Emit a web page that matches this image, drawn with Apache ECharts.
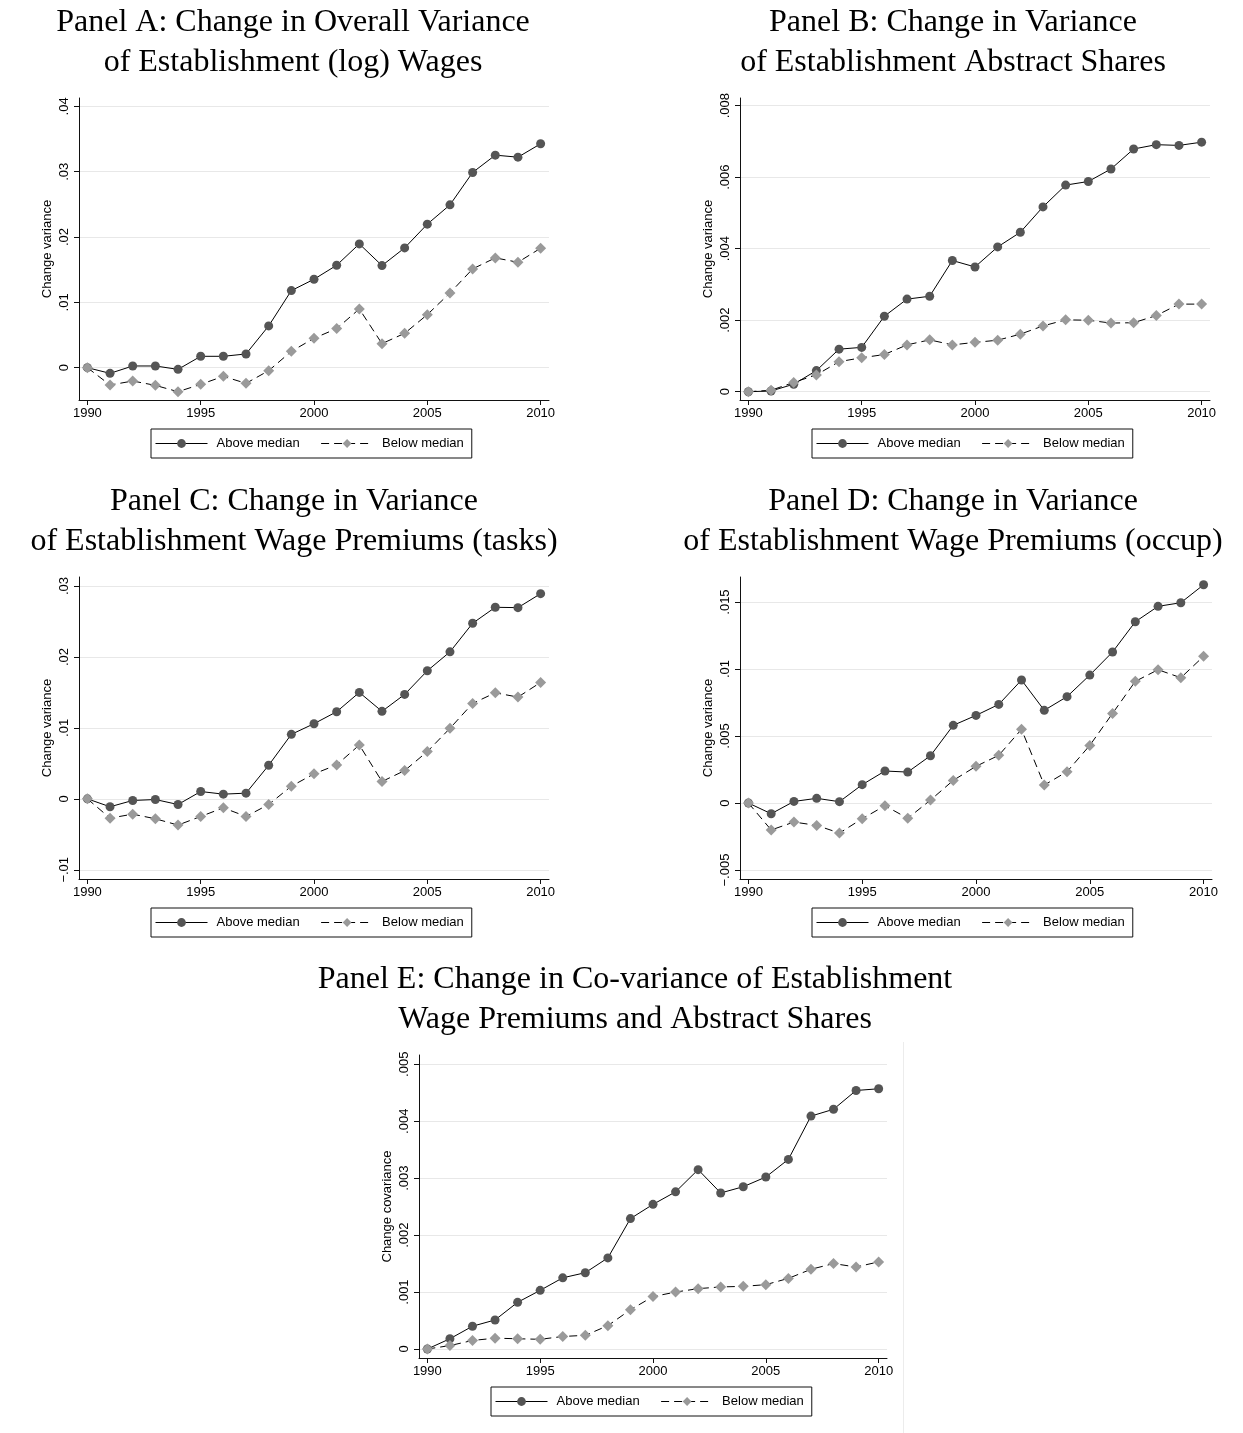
<!DOCTYPE html>
<html><head><meta charset="utf-8">
<script src="https://cdn.jsdelivr.net/npm/echarts@6.0.0/dist/echarts.min.js"></script>
<style>html,body{margin:0;padding:0;background:#fff}#c{width:1243px;height:1433px}</style>
</head><body><div id="c"></div>
<script>
// ---------- data ----------
const years = [1990,1991,1992,1993,1994,1995,1996,1997,1998,1999,2000,2001,2002,2003,2004,2005,2006,2007,2008,2009,2010];
const xTicks = [1990,1995,2000,2005,2010];
const seriesNames = ['Above median','Below median'];

const aAbove = [0,-0.00087,0.00026,0.00026,-0.00026,0.00174,0.00174,0.0021,0.00639,0.0118,0.01354,0.01568,0.01895,0.01563,0.01834,0.02197,0.02493,0.02989,0.03254,0.03223,0.03428];
const aBelow = [0,-0.00266,-0.00204,-0.00271,-0.00368,-0.00255,-0.00133,-0.0024,-0.00046,0.0025,0.0045,0.00598,0.00899,0.00368,0.00526,0.00812,0.01144,0.01512,0.01681,0.01614,0.01829];
const bAbove = [0,0.00002,0.00021,0.00059,0.00119,0.00124,0.00211,0.00259,0.00267,0.00367,0.00349,0.00405,0.00446,0.00517,0.00578,0.00588,0.00623,0.00679,0.00691,0.00689,0.00698];
const bBelow = [0,0.00004,0.00026,0.00047,0.00084,0.00095,0.00104,0.00131,0.00145,0.00131,0.00138,0.00144,0.00161,0.00184,0.00201,0.002,0.00192,0.00193,0.00213,0.00245,0.00245];
const cAbove = [0,-0.00112,-0.00023,-0.0001,-0.0008,0.00103,0.00066,0.0008,0.00473,0.00909,0.01059,0.01228,0.015,0.01233,0.01472,0.01805,0.02072,0.02475,0.027,0.02695,0.02892];
const cBelow = [0,-0.00272,-0.00216,-0.00281,-0.0037,-0.00248,-0.00127,-0.00248,-0.0008,0.00178,0.00352,0.00478,0.00759,0.00244,0.00398,0.00666,0.00994,0.01345,0.01495,0.01434,0.01641];
const dAbove = [0,-0.0008,0.00012,0.00035,0.0001,0.00137,0.00239,0.00231,0.00353,0.0058,0.00654,0.00736,0.00918,0.00692,0.00794,0.00955,0.01127,0.01353,0.01468,0.01495,0.01629];
const dBelow = [0,-0.00201,-0.00142,-0.00167,-0.00224,-0.00117,-0.0002,-0.00114,0.00022,0.00169,0.00274,0.00356,0.0055,0.00134,0.00234,0.0043,0.00669,0.00908,0.00995,0.00935,0.01095];
const eAbove = [0,0.00018,0.0004,0.00051,0.00082,0.00103,0.00125,0.00134,0.0016,0.00229,0.00254,0.00276,0.00315,0.00274,0.00285,0.00302,0.00333,0.00409,0.00421,0.00454,0.00457];
const eBelow = [0,0.00006,0.00015,0.00019,0.00018,0.00017,0.00022,0.00024,0.00041,0.00069,0.00092,0.001,0.00106,0.00109,0.0011,0.00113,0.00124,0.0014,0.0015,0.00144,0.00153];

const aTicks = [0,0.01,0.02,0.03,0.04];
const aTickLabels = ['0','.01','.02','.03','.04'];
const bTicks = [0,0.002,0.004,0.006,0.008];
const bTickLabels = ['0','.002','.004','.006','.008'];
const cTicks = [-0.01,0,0.01,0.02,0.03];
const cTickLabels = ['\u2212.01','0','.01','.02','.03'];
const dTicks = [-0.005,0,0.005,0.01,0.015];
const dTickLabels = ['\u2212.005','0','.005','.01','.015'];
const eTicks = [0,0.001,0.002,0.003,0.004,0.005];
const eTickLabels = ['0','.001','.002','.003','.004','.005'];

const titles = [
  'Panel A: Change in Overall Variance\nof Establishment (log) Wages',
  'Panel B: Change in Variance\nof Establishment Abstract Shares',
  'Panel C: Change in Variance\nof Establishment Wage Premiums (tasks)',
  'Panel D: Change in Variance\nof Establishment Wage Premiums (occup)',
  'Panel E: Change in Co-variance of Establishment\nWage Premiums and Abstract Shares'
];
const yNames = ['Change variance','Change variance','Change variance','Change variance','Change covariance'];

// ---------- layout ----------
const SANS = '"Liberation Sans", Arial, Helvetica, sans-serif';
const SERIF = '"Liberation Serif", "Times New Roman", serif';
const panels = [
  {above:aAbove, below:aBelow, ticks:aTicks, labels:aTickLabels, ymin:-0.00495, ymax:0.04129, grid:{left:79, top:98, width:470, height:302}, cx:293, ty:3, lg:{left:151, top:429}},
  {above:bAbove, below:bBelow, ticks:bTicks, labels:bTickLabels, ymin:-0.000232, ymax:0.008216, grid:{left:740, top:98, width:470, height:302}, cx:953, ty:3, lg:{left:812, top:429}},
  {above:cAbove, below:cBelow, ticks:cTicks, labels:cTickLabels, ymin:-0.0113, ymax:0.03127, grid:{left:79, top:577, width:470, height:302}, cx:294, ty:482, lg:{left:151, top:908}},
  {above:dAbove, below:dBelow, ticks:dTicks, labels:dTickLabels, ymin:-0.00567, ymax:0.01687, grid:{left:740, top:577, width:472, height:302}, cx:953, ty:482, lg:{left:812, top:908}},
  {above:eAbove, below:eBelow, ticks:eTicks, labels:eTickLabels, ymin:-0.000158, ymax:0.005163, grid:{left:419, top:1055, width:468, height:303}, cx:635, ty:960, lg:{left:491, top:1387}}
];

const option = {animation:false, backgroundColor:'#fff', title:[], grid:[], xAxis:[], yAxis:[], legend:[], series:[],
  graphic:[{type:'line', shape:{x1:903.5, y1:1042, x2:903.5, y2:1433}, style:{stroke:'#ececec', lineWidth:1}, silent:true}]};

panels.forEach((p, i) => {
  option.title.push({text:titles[i], left:p.cx, top:p.ty, textAlign:'center', padding:0,
    textStyle:{fontFamily:SERIF, fontSize:32, fontWeight:'normal', color:'#000', lineHeight:40}});
  option.grid.push(Object.assign({containLabel:false}, p.grid));
  option.xAxis.push({type:'value', gridIndex:i, min:1989.63, max:2010.37,
    axisLine:{show:true, onZero:false, lineStyle:{color:'#111', width:1}},
    axisTick:{show:true, length:5, customValues:xTicks, lineStyle:{color:'#111'}},
    axisLabel:{customValues:xTicks, margin:7, fontFamily:SANS, fontSize:13, color:'#000', formatter:v=>String(Math.round(v))},
    splitLine:{show:false}});
  const tk = p.ticks, lb = p.labels;
  option.yAxis.push({type:'value', gridIndex:i, min:p.ymin, max:p.ymax,
    name:yNames[i], nameLocation:'middle', nameGap:25, nameMoveOverlap:false,
    nameTextStyle:{fontFamily:SANS, fontSize:13, color:'#000'},
    axisLine:{show:true, onZero:false, lineStyle:{color:'#111', width:1}},
    axisTick:{show:true, length:5, customValues:tk, lineStyle:{color:'#111'}},
    axisLabel:{customValues:tk, rotate:90, margin:8, fontFamily:SANS, fontSize:13, color:'#000',
      formatter:function(v){ const k = tk.findIndex(t => Math.abs(t - v) < 1e-9); return k >= 0 ? lb[k] : ''; }},
    splitLine:{show:true, lineStyle:{color:'#e8e8e8', width:1}}});
  option.legend.push({left:p.lg.left, top:p.lg.top, orient:'horizontal', data:seriesNames, selectedMode:false,
    itemWidth:52, itemHeight:11, itemGap:21, padding:[8,8,8,4], borderColor:'#111', borderWidth:1, borderRadius:0,
    lineStyle:{width:1},
    textStyle:{fontFamily:SANS, fontSize:13, color:'#000', padding:[0,0,0,4]}});
  option.series.push({name:seriesNames[0], type:'line', xAxisIndex:i, yAxisIndex:i,
    data:years.map((y,k)=>[y, p.above[k]]), symbol:'circle', symbolSize:9,
    itemStyle:{color:'#555555'}, lineStyle:{color:'#000', width:1, type:'solid'}, z:2});
  option.series.push({name:seriesNames[1], type:'line', xAxisIndex:i, yAxisIndex:i,
    data:years.map((y,k)=>[y, p.below[k]]), symbol:'diamond', symbolSize:11,
    itemStyle:{color:'#9a9a9a'}, lineStyle:{color:'#000', width:1, type:[8,5]}, z:3});
});

const chart = echarts.init(document.getElementById('c'), null, {renderer:'canvas'});
chart.setOption(option);
</script></body></html>
